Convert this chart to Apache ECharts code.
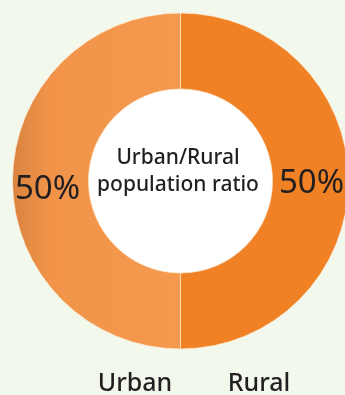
<!DOCTYPE html>
<html>
<head>
<meta charset="utf-8">
<script src="https://cdn.jsdelivr.net/npm/echarts@6/dist/echarts.min.js"></script>
<style>
  html, body { margin: 0; padding: 0; background: #f2f8ec; }
  #chart { width: 345px; height: 395px; }
</style>
</head>
<body>
<div id="chart"></div>
<script>
// Urban vs rural share of population
const categories = ['Urban', 'Rural'];
const shares = [50, 50];
const centerTitle = 'Urban/Rural\npopulation ratio';

const FONT = '"Noto Sans", "Open Sans", sans-serif';
const TEXT = '#231f20';

const sliceStyles = [
  {
    color: {
      type: 'linear', global: true, x: 12, y: 0, x2: 180, y2: 0,
      colorStops: [
        { offset: 0, color: '#d8833f' },
        { offset: 0.22, color: '#f1944a' },
        { offset: 1, color: '#f4994d' }
      ]
    }
  },
  { color: '#f08125' }
];
const labelOffsets = [[0, 9], [-2, 3]];

const chart = echarts.init(document.getElementById('chart'), null, { renderer: 'canvas' });

chart.setOption({
  backgroundColor: '#f2f8ec',
  animation: false,
  series: [
    {
      type: 'pie',
      center: [180.5, 181],
      radius: [92, 168],
      startAngle: 90,
      clockwise: false,
      silent: true,
      itemStyle: { borderColor: 'rgba(255,236,215,0.7)', borderWidth: 1 },
      label: {
        show: true,
        position: 'inside',
        formatter: '{d}%',
        fontFamily: FONT,
        fontSize: 33,
        color: TEXT
      },
      labelLine: { show: false },
      data: categories.map((name, i) => ({
        name,
        value: shares[i],
        itemStyle: sliceStyles[i],
        label: { offset: labelOffsets[i] }
      }))
    },
    {
      type: 'pie',
      center: [180.5, 181],
      radius: [0, 92],
      silent: true,
      z: 1,
      label: { show: false },
      itemStyle: { color: '#ffffff' },
      data: [{ value: 1 }]
    }
  ],
  graphic: {
    elements: [
      {
        type: 'text',
        z: 100,
        x: 178, y: 172,
        style: {
          text: centerTitle,
          fontFamily: FONT,
          fontSize: 21,
          fontWeight: 500,
          lineHeight: 27,
          fill: TEXT,
          align: 'center',
          verticalAlign: 'middle'
        }
      },
      ...categories.map((name, i) => ({
        type: 'text',
        z: 100,
        x: [135, 259][i],
        y: 384,
        style: {
          text: name,
          fontFamily: FONT,
          fontSize: 25,
          fontWeight: 500,
          fill: TEXT,
          align: 'center',
          verticalAlign: 'middle'
        }
      }))
    ]
  }
});
</script>
</body>
</html>
